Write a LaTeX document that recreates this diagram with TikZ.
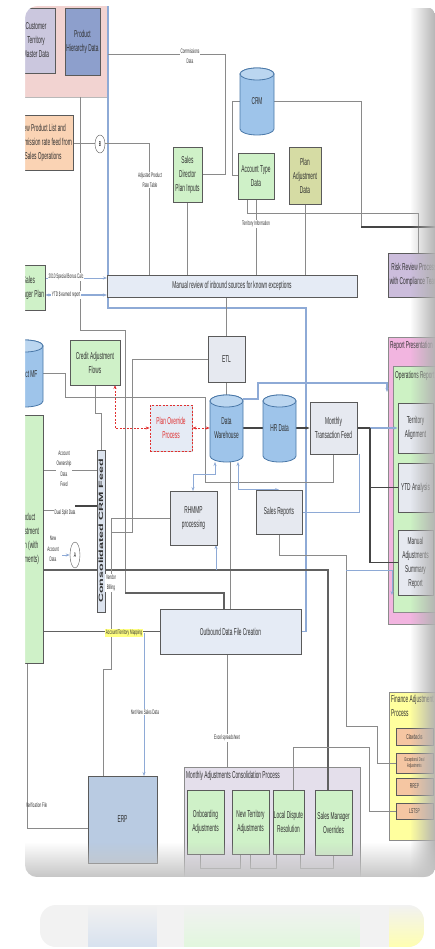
\documentclass[tikz,border=0pt]{standalone}
\usepackage{fontspec}
\usepackage{graphicx}
\setmainfont[FakeStretch=0.48]{Liberation Sans}
\newfontfamily\plainsans{Liberation Sans}
\usetikzlibrary{arrows.meta,shapes.geometric,fadings,shadows}
\definecolor{gline}{HTML}{8A8A8A}
\definecolor{dline}{HTML}{454545}
\definecolor{bline}{HTML}{8EAAD6}
\definecolor{bord}{HTML}{5A5A5A}
\definecolor{pinkbg}{HTML}{F2D3D1}
\definecolor{lavfill}{HTML}{CBC7DE}
\definecolor{phfill}{HTML}{8D9FCC}
\definecolor{peach}{HTML}{FAD3B4}
\definecolor{lgreen}{HTML}{CFF1C8}
\definecolor{olive}{HTML}{D6DCA4}
\definecolor{purp}{HTML}{CCBDDC}
\definecolor{bluegrey}{HTML}{E5EBF5}
\definecolor{greybox}{HTML}{E6E9F0}
\definecolor{cylfill}{HTML}{9EC4EA}
\definecolor{cylbord}{HTML}{4A78A8}
\definecolor{erpfill}{HTML}{B9CBE2}
\definecolor{reppink}{HTML}{F2B5E0}
\definecolor{opsgreen}{HTML}{CDF2C4}
\definecolor{finyel}{HTML}{FFFF9E}
\definecolor{salmon}{HTML}{F5C6A2}
\definecolor{madjbg}{HTML}{E4DFEB}
\definecolor{redd}{HTML}{E03030}
\definecolor{txt}{HTML}{303030}
\definecolor{hilite}{HTML}{FFFF80}
\definecolor{feedfill}{HTML}{DCE3EE}
\tikzfading[name=fadedown, top color=transparent!100, bottom color=transparent!0]
\tikzfading[name=faderight, left color=transparent!100, right color=transparent!0]
\pgfdeclarelayer{back}
\pgfdeclarelayer{grp}
\pgfdeclarelayer{conn}
\pgfsetlayers{back,grp,conn,main}
\newcommand\bxfont{\fontsize{10}{14}\selectfont}
\newcommand\labfont{\fontsize{6.5}{10.5}\selectfont}
\newcommand\tinyfont{\fontsize{7}{8.5}\selectfont}
\tikzset{
  boxst/.style={draw=bord, line width=0.8pt, align=center, inner sep=1pt, font=\bxfont, text=txt,
    drop shadow={shadow xshift=1.2pt,shadow yshift=-1.2pt,fill=black!45,opacity=0.45}},
  grpst/.style={draw=bord!70, line width=0.6pt, inner sep=0pt},
  conn/.style={draw=gline, line width=1pt},
  dconn/.style={draw=dline, line width=1.5pt},
  mconn/.style={draw=dline!85, line width=1.2pt},
  bconn/.style={draw=bline, line width=0.8pt},
  lab/.style={font=\labfont, fill=white, inner sep=0.6pt, align=center, text=txt},
  tip/.style={-{Stealth[length=4pt,width=3pt]}},
  btip/.style={{Stealth[length=4pt,width=3pt]}-{Stealth[length=4pt,width=3pt]}},
  reddash/.style={draw=redd, dash pattern=on 2pt off 1.5pt, line width=0.9pt},
}
\newcommand\mybox[7][]{\node[boxst,minimum width={(#5-#3)*1pt},minimum height={(#6-#4)*1pt},#1] (#2) at ({(#3+#5)/2},{(#4+#6)/2}) {#7};}
\newcommand\mygrp[7][]{\node[grpst,minimum width={(#5-#3)*1pt},minimum height={(#6-#4)*1pt},#1] (#2) at ({(#3+#5)/2},{(#4+#6)/2}) {#7};}
\newcommand\mycyl[6]{%
  \pgfmathsetmacro\cylrx{(#4-#2)/2}%
  \filldraw[fill=cylfill,draw=cylbord,line width=0.8pt] ({#2},{#3+6}) -- ({#2},{#5-6}) arc[start angle=180,end angle=360,x radius=\cylrx pt,y radius=6pt] -- ({#4},{#3+6}) arc[start angle=0,end angle=180,x radius=\cylrx pt,y radius=6pt] -- cycle;
  \draw[fill=cylfill!70!white,draw=cylbord,line width=0.8pt] ({(#2+#4)/2},{#3+6}) ellipse[x radius=\cylrx pt,y radius=6pt];
  \node[inner sep=0,minimum width={(#4-#2)*1pt},minimum height={(#5-#3)*1pt},align=center,font=\bxfont,text=txt] (#1) at ({(#2+#4)/2},{(#3+#5)/2}) {#6};}
\begin{document}
\begin{tikzpicture}[x=1pt,y=-1pt]
\useasboundingbox (0,0) rectangle (435,949);
\begin{pgfonlayer}{back}
\fill[white] (0,0) rectangle (435,949);
\end{pgfonlayer}

% ---------------- groups
\begin{pgfonlayer}{grp}
\mygrp[fill=pinkbg,draw=gray!55]{pink}{14}{2}{107}{97}{}
\mygrp[fill=reppink]{repp}{388}{337}{445}{624}{}
\mygrp[fill=opsgreen]{opsr}{393}{366}{445}{612}{}
\mygrp[fill=madjbg]{madj}{184}{767}{360}{877}{}
\mygrp[fill=finyel]{fin}{389}{692}{445}{840}{}
\end{pgfonlayer}
\node[anchor=north west,font=\bxfont,text=txt,inner sep=0] (reppt) at (390,341) {Report Presentation};
\node[anchor=north west,font=\bxfont,text=txt,inner sep=0] (opsrt) at (395,371) {Operations Report};
\node[anchor=north west,font=\bxfont,text=txt,inner sep=0] (madjt) at (186,771) {Monthly Adjustments Consolidation Process};
\node[anchor=north west,font=\bxfont,text=txt,inner sep=0,align=left] (fint) at (391,695) {Finance Adjustment\\Process};

% ---------------- boxes
\mybox[fill=lavfill]{cust}{17}{8}{55}{73}{Customer\\Territory\\Master Data}
\mybox[fill=phfill]{prodh}{65}{8}{100}{75}{Product\\Hierarchy Data}
\mybox[fill=peach]{newprod}{13}{115}{73}{170}{New Product List and\\Commission rate feed from\\Sales Operations}
\mybox[fill=lgreen]{salesdir}{173}{147}{202}{202}{Sales\\Director\\Plan Inputs}
\mycyl{crm}{240}{68}{274}{135}{CRM}
\mybox[fill=lgreen]{atd}{238}{153}{274}{199}{Account Type\\Data}
\mybox[fill=olive]{pad}{289}{147}{321}{204}{Plan\\Adjustment\\Data}
\mybox[fill=purp]{risk}{388}{253}{440}{297}{Risk Review Process\\with Compliance Team}
\mybox[fill=bluegrey]{mreview}{107}{275}{357}{297}{Manual review of inbound sources for known exceptions}
\mybox[fill=lgreen]{planner}{13}{265}{45}{310}{Sales\\Manager Plan}
\mycyl{prodmf}{7}{340}{43}{407}{Product MF}
\mybox[fill=lgreen]{caf}{70}{340}{120}{385}{Credit Adjustment\\Flows}
\mybox[fill=greybox]{etl}{208}{336}{245}{382}{ETL}
\mycyl{dw}{210}{395}{243}{462}{Data\\Warehouse}
\mycyl{hr}{263}{395}{296}{462}{HR Data}
\mybox[fill=greybox]{mtf}{310}{402}{357}{454}{Monthly\\Transaction Feed}
\mybox[fill=bluegrey,draw=redd,dash pattern=on 2pt off 1.5pt,text=redd]{pop}{150}{405}{192}{451}{Plan Override\\Process}
\mybox[fill=greybox]{rhmmp}{170}{491}{217}{545}{RHMMP\\processing}
\mybox[fill=greybox]{srep}{256}{490}{302}{534}{Sales Reports}
\mybox[fill=feedfill,inner sep=0]{crmfeed}{97}{450}{105}{612}{}
\node[rotate=90,inner sep=0,text=txt] (crmfeedt) at (crmfeed.center) {\scalebox{1}[0.5]{\plainsans\bfseries\fontsize{12.5}{12.5}\selectfont Consolidated CRM Feed}};
\mybox[fill=lgreen]{prodadj}{11}{415}{43}{663}{Product\\Adjustment\\Form (with\\comments)}
\mybox[fill=bluegrey]{outb}{160}{609}{301}{654}{Outbound Data File Creation}
\mybox[fill=erpfill]{erp}{88}{776}{157}{863}{ERP}
\mybox[fill=greybox]{terr}{398}{403}{433}{453}{Territory\\Alignment}
\mybox[fill=greybox]{ytd}{398}{463}{433}{512}{YTD Analysis}
\mybox[fill=greybox]{mas}{398}{530}{433}{595}{Manual\\Adjustments\\Summary\\Report}
\mybox[fill=lgreen]{onb}{187}{790}{224}{854}{Onboarding\\Adjustments}
\mybox[fill=lgreen]{newt}{232}{790}{269}{854}{New Territory\\Adjustments}
\mybox[fill=lgreen,inner sep=0]{ldr}{273}{790}{304}{854}{Local Dispute\\Resolution}
\mybox[fill=lgreen]{smo}{315}{790}{352}{855}{Sales Manager\\Overrides}
\mybox[fill=salmon,font=\tinyfont]{claw}{396}{728}{433}{745}{Clawbacks}
\mybox[fill=salmon,font=\fontsize{5.5}{6.5}\selectfont]{exd}{396}{753}{433}{773}{Exceptional Deal\\Adjustments}
\mybox[fill=salmon,font=\tinyfont]{rrep}{396}{778}{433}{795}{RREP}
\mybox[fill=salmon,font=\tinyfont]{lstsp}{396}{803}{433}{819}{LSTSP}
\node[draw=bord,ellipse,fill=white,minimum width=10pt,minimum height=18pt,inner sep=0,font=\tinyfont] (B) at (100,144) {B};
\node[draw=bord,ellipse,fill=white,minimum width=10pt,minimum height=26pt,inner sep=0,font=\tinyfont] (A) at (75,555) {A};

% ---------------- connectors
\coordinate (topblue) at (108,-5);
\coordinate (rightedge) at (440,227);
\begin{pgfonlayer}{conn}
\draw[bconn,line width=1.1pt] (topblue) |- (306,308) |- (outb.east);
\draw[conn] (salesdir.east) -| (225,55) -- (108,55);
\draw[conn] (newprod.east |- B) -- (B.west);
\draw[conn] (B.east) -| (149,275);
\draw[conn] (80,97) -- (80,330) -- (125,330) -- (125,593);
\draw[mconn] (125,593) -| (224,609);
\draw[conn] (salesdir.south) -- (salesdir.south |- mreview.north);
\draw[conn] (247,199) |- (418,214) -- (418,253);
\draw[conn] (256,199) -- (256,275);
\draw[conn] (pad.south) -- (pad.south |- mreview.north);
\draw[conn] (atd.west) -| (232,102) -| (361,227);
\draw[dconn] (361,227) -- (rightedge);
\draw[bconn,tip] (planner.east |- 0,278) -- (107,278);
\draw[bconn,btip,line width=1.2pt] (planner.east |- 0,295) -- (107,295);
\draw[conn] (etl.north |- mreview.south) -- (etl.north);
\draw[conn] (111,532) -| (132,359) -- (etl.west);
\draw[conn] (etl.south) -- (dw.north);
\draw[conn] (43,373) -| (65,397) -| (205,482) -| (333,454);
\draw[conn] (caf.south) -- (95,413) -| (crmfeed.north);
\draw[reddash,btip] (115,385) |- (pop.west);
\draw[reddash,btip] (pop.east) -- (dw.west |- pop.east);
\draw[dconn] (dw.east |- 0,428) -- (hr.west |- 0,428);
\draw[dconn,tip] (hr.east |- 0,428) -- (mtf.west |- 0,428);
\draw[dconn] (mtf.east |- 0,428) -- (370,428);
\draw[bconn,tip,line width=1.1pt] (370,428) -- (terr.west);
\draw[dconn] (370,428) |- (ytd.west);
\draw[dconn] (370,428) |- (mas.west);
\draw[bconn,tip,line width=1.1pt] (243,399) -| (258,383) -| (387,392);
\draw[conn] (outb.north |- dw.south) -- (outb.north);
\draw[bconn,btip] (215,462) |- (193,474) -- (193,491);
\draw[bconn,btip] (238,462) |- (srep.north);
\draw[conn] (srep.south) |- (346,555) |- (377,726) |- (exd.west);
\draw[bconn] (srep.east) -| (359,454);
\draw[mconn] (prodadj.east |- 0,570) -| (328,790);
\draw[bconn,tip] (346,570) -| (392,595);
\draw[bconn,tip] (216,570) -- (216,545);
\draw[conn] (prodadj.east |- 0,470) -- (crmfeed.west |- 0,470);
\draw[conn] (prodadj.east |- 0,510) -- (55,510);
\draw[dconn] (75,506) -- (crmfeed.west |- 0,506);
\draw[bconn,tip] (62,555) -- (A.west);
\draw[conn] (rhmmp.west) -| (111,669) -| (103,776);
\draw[mconn] (prodadj.east |- outb.west) -- (outb.west);
\draw[bconn,tip] (144,633) -- (144,776);
\draw[conn] (27,663) |- (erp.west |- 0,828);
\draw[conn] (227,654) -- (227,767);
\draw[conn] (293,790) |- (369,747) |- (lstsp.west);
\draw[conn] (200,854) |- (240,868) -- (240,854);
\draw[conn] (250,854) |- (276,868) -- (276,854);
\draw[conn] (300,854) |- (333,868) -- (333,855);
\end{pgfonlayer}

% ---------------- labels
\node[lab] (lcomm) at (190,56) {Commissions\\Data};
\node[lab] (ladj) at (150,180) {Adjusted Product\\Rate Table};
\node[lab] (lterr) at (256,224) {Territory Information};
\node[lab] (l2010) at (66,277) {2010 Special Bonus Calc};
\node[lab] (lytd) at (66,295) {YTD \$ earned report};
\node[lab] (lown) at (64,469) {Account\\Ownership\\Data\\Feed};
\node[lab] (ldual) at (65,513) {Dual Split Data};
\node[lab,fill=none] (lnew) at (53,549) {New\\Account\\Data};
\node[lab] (lvend) at (111,583) {Vendor\\Billing};
\node[lab,fill=hilite] (lmap) at (124,633) {Account/Territory Mapping};
\node[lab] (lnet) at (145,712) {Net New Sales Data};
\node[lab] (lexcel) at (227,738) {Excel spreadsheet};
\node[lab,fill=none,anchor=east] (lver) at (48,805) {Verification File};

% ---------------- card mask, shading, reflection
\fill[white,even odd rule] (-10,-10) rectangle (445,960) [rounded corners=12pt] (25,6) rectangle (436,877);
\begin{scope}
\clip[rounded corners=12pt] (25,6) rectangle (436,877);
\fill[gray!60,path fading=faderight] (410,6) rectangle (436,877);
\fill[gray!45,path fading=fadedown] (25,842) rectangle (436,877);
\end{scope}
\begin{scope}
\clip[rounded corners=16pt] (40,905) rectangle (424,947);
\fill[gray!10] (40,905) rectangle (424,947);
\fill[erpfill!55,path fading=fadedown] (88,905) rectangle (157,947);
\fill[lgreen!60,path fading=fadedown] (184,905) rectangle (360,947);
\fill[finyel!80,path fading=fadedown] (389,905) rectangle (424,947);
\end{scope}
\end{tikzpicture}
\end{document}
